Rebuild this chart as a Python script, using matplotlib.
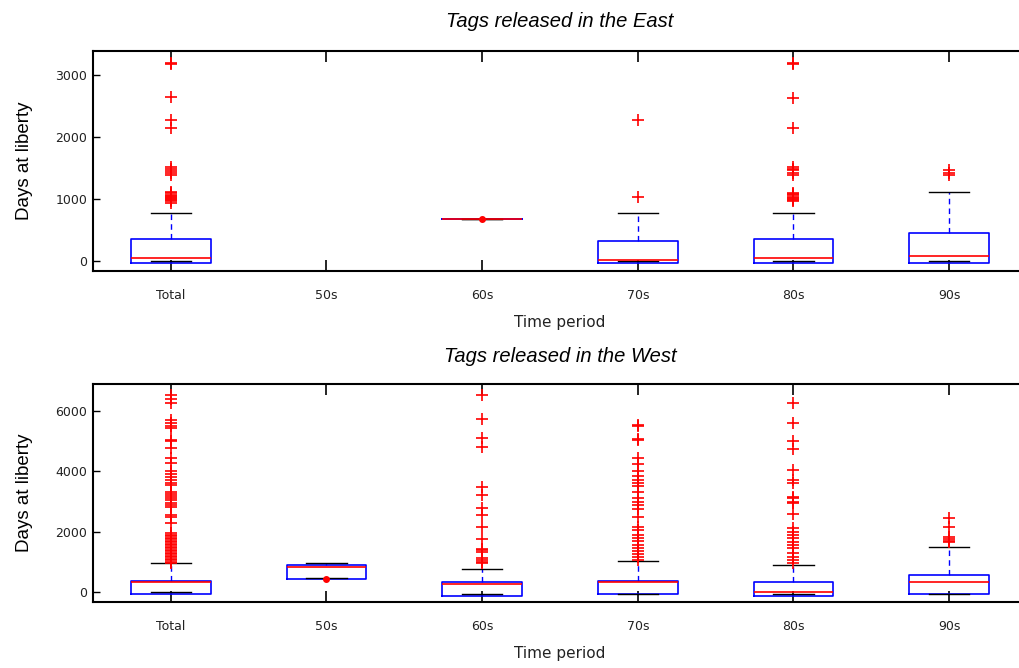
import matplotlib
matplotlib.use("Agg")
import matplotlib.pyplot as plt

plt.rcParams['font.family'] = ['Liberation Sans', 'DejaVu Sans']

categories = ["Total", "50s", "60s", "70s", "80s", "90s"]

# ---- East (top panel) ----
east_q1 = [-30, None, 680, -30, -30, -30]
east_med = [50, None, 680, 20, 45, 75]
east_q3 = [360, None, 680, 330, 360, 455]
east_whislo = [0, None, 680, 0, 0, 0]
east_whishi = [780, None, 680, 780, 780, 1110]
east_fliers = [
    [3200, 3180, 2640, 2280, 2140, 1520, 1480, 1450, 1420, 1380, 1110, 1090, 1070,
     1050, 1040, 1020, 1000, 980, 960, 940],
    [],
    [],
    [2270, 1040],
    [3200, 3180, 2630, 2140, 1520, 1490, 1460, 1420, 1390, 1100, 1080, 1060, 1040,
     1020, 1000, 980, 960],
    [1470, 1420, 1380],
]
east_dots = [None, None, 680, None, None, None]

# ---- West (bottom panel) ----
west_q1 = [-75, 420, -120, -65, -120, -65]
west_med = [320, 840, 265, 320, 10, 320]
west_q3 = [365, 895, 320, 365, 320, 575]
west_whislo = [0, 450, -65, -65, -65, -65]
west_whishi = [950, 960, 760, 1030, 895, 1480]
west_fliers = [
    [6530, 6400, 6250, 5700, 5600, 5500, 5430, 5040, 5000, 4760, 4430, 4270, 4000,
     3900, 3800, 3700, 3620, 3550, 3300, 3250, 3180, 3100, 3050, 2950, 2900, 2830,
     2550, 2480, 2300, 1950, 1900, 1850, 1800, 1750, 1700, 1650, 1600, 1550, 1500,
     1450, 1400, 1350, 1300, 1250, 1200, 1150, 1100, 1050, 1000, 970],
    [],
    [6530, 5720, 5090, 4800, 3490, 3200, 2800, 2560, 2150, 1750, 1430, 1380, 1340,
     1120, 1060, 1000, 950],
    [5550, 5500, 5080, 5030, 4430, 4250, 4000, 3850, 3700, 3600, 3500, 3300, 3100,
     3000, 2900, 2750, 2500, 2170, 2050, 1900, 1800, 1700, 1550, 1450, 1350, 1250,
     1150, 1060],
    [6250, 5610, 5020, 4730, 4040, 3710, 3600, 3160, 3100, 3000, 2940, 2590, 2120,
     2000, 1900, 1800, 1670, 1550, 1450, 1280, 1150, 1050, 950],
    [2440, 2170, 1830, 1770, 1700, 1670],
]
west_dots = [None, 420, None, None, None, None]

east_yticks = [0, 1000, 2000, 3000]
west_yticks = [0, 2000, 4000, 6000]
titles = ["Tags released in the East", "Tags released in the West"]


def make_stats(q1, med, q3, lo, hi, fl):
    stats, pos = [], []
    for i in range(len(categories)):
        if med[i] is None:
            continue
        stats.append(dict(q1=q1[i], med=med[i], q3=q3[i], whislo=lo[i],
                          whishi=hi[i], fliers=fl[i]))
        pos.append(i + 1)
    return stats, pos


fig = plt.figure(figsize=(10.2, 6.68), dpi=100)
ax1 = fig.add_axes([93 / 1020, 1 - 271 / 668, 934 / 1020, 220 / 668])
ax2 = fig.add_axes([93 / 1020, 1 - 602 / 668, 934 / 1020, 218 / 668])

panels = [
    (ax1, make_stats(east_q1, east_med, east_q3, east_whislo, east_whishi, east_fliers),
     east_dots, east_yticks, (-161, 3387), titles[0], 220, 17),
    (ax2, make_stats(west_q1, west_med, west_q3, west_whislo, west_whishi, west_fliers),
     west_dots, west_yticks, (-331, 6895), titles[1], 218, 15.5),
]

tick_font = ['DejaVu Sans']
for ax, (stats, pos), dots, yt, ylim, title, h, tpad in panels:
    ax.bxp(stats, positions=pos, widths=0.51, capwidths=0.26,
           boxprops=dict(color='blue', linewidth=1.2),
           medianprops=dict(color='red', linewidth=1.2),
           whiskerprops=dict(color='blue', linestyle=(0, (4, 3)), linewidth=1.0),
           capprops=dict(color='black', linewidth=1.0),
           flierprops=dict(marker='+', markeredgecolor='red', markersize=9,
                           markeredgewidth=1.2, linestyle='none'))
    for i, d in enumerate(dots):
        if d is not None:
            ax.plot(i + 1, d, 'o', color='red', markersize=4, zorder=5)
    ax.set_xlim(0.5, 6.5)
    ax.set_ylim(*ylim)
    ax.set_xticks(range(1, len(categories) + 1))
    ax.set_xticklabels(categories, family=tick_font, fontsize=9, color='#222222')
    ax.set_yticks(yt)
    ax.set_yticklabels([str(v) for v in yt], family=tick_font, fontsize=9,
                       color='#222222')
    ax.tick_params(axis='x', direction='in', length=8, top=True, bottom=True,
                   pad=13, width=1.2)
    ax.tick_params(axis='y', direction='in', length=5, left=True, right=True,
                   pad=4, width=1.0)
    for s in ax.spines.values():
        s.set_linewidth(1.5)
    ax.set_title(title, fontstyle='italic', fontsize=14.5, pad=tpad)
    ax.set_xlabel("Time period", fontsize=11, family=tick_font, color='#222222')
    ax.set_ylabel("Days at liberty", fontsize=13.5)
    ax.xaxis.set_label_coords(0.5, -44 / h)
    ax.yaxis.set_label_coords((33 - 93) / 934, 0.5)

fig.savefig("out.png", dpi=100)
